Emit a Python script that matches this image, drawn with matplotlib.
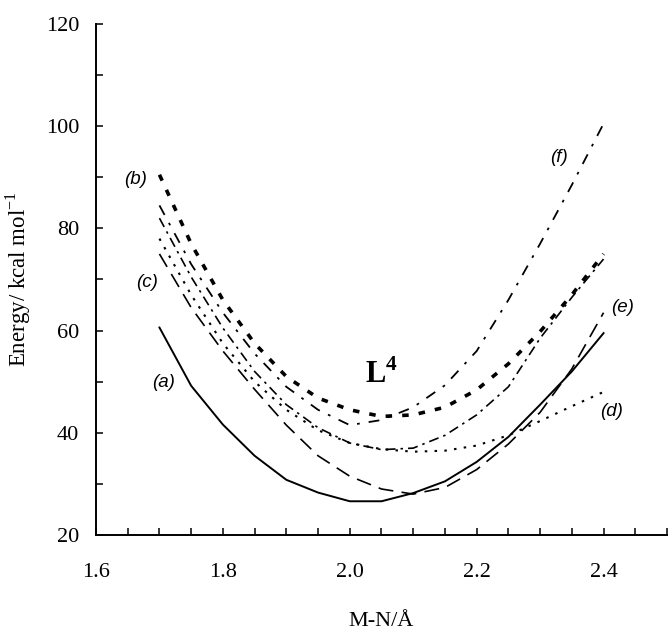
"""Potential energy curves vs M-N distance for L4 (curves a-f)."""

import matplotlib

matplotlib.use("Agg")
import matplotlib.pyplot as plt
from matplotlib.ticker import MultipleLocator, FixedLocator

# M-N distance grid (Angstrom)
MN = [1.70, 1.75, 1.80, 1.85, 1.90, 1.95, 2.00, 2.05, 2.10, 2.15, 2.20, 2.25, 2.30, 2.35, 2.40]

# energies, kcal/mol
E_A = [60.6, 49.2, 41.6, 35.5, 30.8, 28.3, 26.6, 26.6, 28.2, 30.5, 34.3, 39.2, 45.5, 52.0, 59.5]
E_B = [90.5, 77.0, 66.0, 57.5, 51.0, 46.8, 44.5, 43.2, 43.5, 45.0, 48.4, 53.5, 59.8, 67.0, 75.0]
E_C = [82.0, 70.5, 60.5, 52.0, 45.5, 41.0, 38.0, 36.7, 37.0, 39.5, 43.5, 49.0, 58.5, 66.5, 74.0]
E_D = [78.0, 67.0, 57.5, 50.0, 44.5, 40.5, 38.0, 36.8, 36.3, 36.5, 37.5, 39.5, 42.3, 45.2, 48.0]
E_E = [75.0, 64.5, 56.0, 48.5, 41.5, 35.5, 31.5, 29.0, 28.0, 29.3, 32.8, 37.8, 44.0, 52.5, 63.5]
E_F = [84.5, 73.0, 63.5, 55.5, 49.0, 44.5, 41.5, 42.5, 45.0, 49.3, 56.0, 66.0, 77.0, 88.5, 100.5]

CURVE_LABELS = ["(a)", "(b)", "(c)", "(d)", "(e)", "(f)"]
LABEL_X = [1.706, 1.662, 1.680, 2.412, 2.430, 2.330]
LABEL_Y = [49.8, 89.6, 69.4, 44.1, 64.5, 93.9]

plt.rcParams["font.family"] = "serif"
plt.rcParams["font.serif"] = ["Liberation Serif", "DejaVu Serif"]
plt.rcParams["font.sans-serif"] = ["Liberation Sans", "DejaVu Sans"]
plt.rcParams["mathtext.fontset"] = "custom"
plt.rcParams["mathtext.rm"] = "Liberation Serif"
plt.rcParams["mathtext.bf"] = "Liberation Serif:bold"

fig = plt.figure(figsize=(6.69, 6.35), dpi=100)
ax = fig.add_axes([0.1435, 0.1575, 0.8535, 0.8047])

ax.plot(MN, E_A, color="black", linewidth=1.4, linestyle="-")
ax.plot(MN, E_B, color="black", linewidth=2.6, linestyle=(0, (1.8, 2.8)))
ax.plot(MN, E_C, color="black", linewidth=1.2, linestyle=(0, (6, 3, 1.5, 3)))
ax.plot(MN, E_D, color="black", linewidth=1.5, linestyle=(0, (1.2, 3.5)))
ax.plot(MN, E_E, color="black", linewidth=1.2, linestyle=(0, (9, 5)))
ax.plot(MN, E_F, color="black", linewidth=1.3, linestyle=(0, (6, 5, 1.5, 5)))

for lab, lx, ly in zip(CURVE_LABELS, LABEL_X, LABEL_Y):
    ax.text(lx, ly, lab, ha="center", va="center", fontsize=13.5,
            family="sans-serif", style="italic")

ax.text(2.05, 51.4, r"L$^{\mathbf{4}}$", ha="center", va="center",
        fontsize=22, weight="bold")

ax.set_xlim(1.6, 2.5)
ax.set_ylim(20, 120)
ax.xaxis.set_major_locator(FixedLocator([1.6, 1.8, 2.0, 2.2, 2.4]))
ax.xaxis.set_minor_locator(MultipleLocator(0.05))
ax.yaxis.set_major_locator(MultipleLocator(20))
ax.yaxis.set_minor_locator(MultipleLocator(10))
ax.set_xticklabels(["1.6", "1.8", "2.0", "2.2", "2.4"])

for side in ["top", "right"]:
    ax.spines[side].set_visible(False)
for side in ["left", "bottom"]:
    ax.spines[side].set_linewidth(1.4)

ax.tick_params(axis="both", which="both", direction="in", length=5, width=1.1,
               labelsize=16)
ax.tick_params(axis="x", which="major", pad=20)
ax.tick_params(axis="y", which="major", pad=12)

ax.set_xlabel("M-N/Å", fontsize=16, labelpad=22)
ax.set_ylabel("Energy/ kcal mol$^{-1}$", fontsize=16.5, labelpad=9)

fig.savefig("out.png", dpi=100)
plt.close(fig)
